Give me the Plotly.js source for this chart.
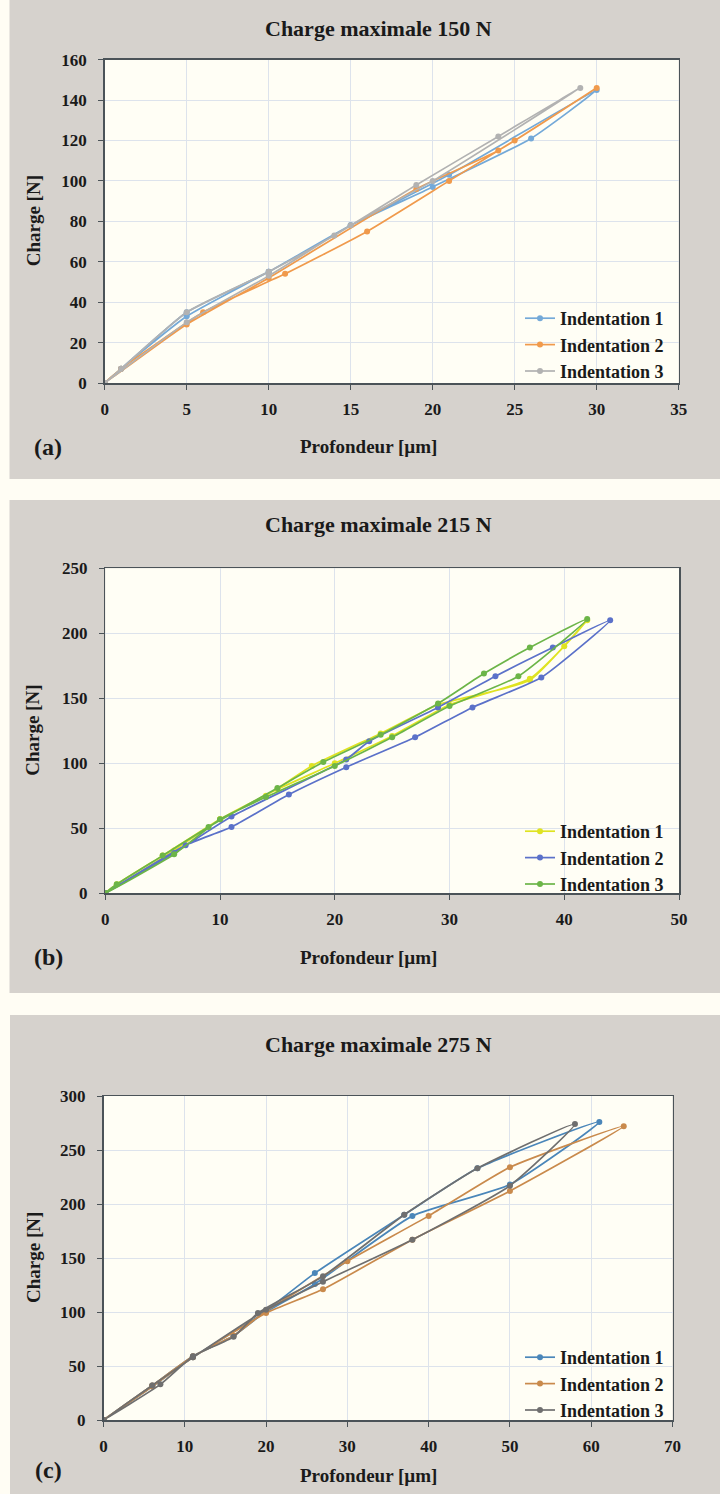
<!DOCTYPE html>
<html>
<head>
<meta charset="utf-8">
<script src="https://cdn.plot.ly/plotly-3.0.1.min.js"></script>
<style>html,body{margin:0;padding:0;background:#fffdf4;}</style>
</head>
<body>
<div id="chart" style="width:720px;height:1494px;"></div>
<script>
// ---------- DATA ----------
const seriesNames = ["Indentation 1", "Indentation 2", "Indentation 3"];
const panelTitles = ["Charge maximale 150 N", "Charge maximale 215 N", "Charge maximale 275 N"];
const panelLabels = ["(a)", "(b)", "(c)"];
const xTitle = "Profondeur [µm]";
const yTitle = "Charge [N]";

// Panel (a) – 150 N
const a_x1 = [0, 1, 5, 10, 15, 20, 26, 30, 21, 15, 10, 5, 1, 0];
const a_y1 = [0, 7, 35, 55, 78, 97, 121, 145, 103, 78, 55, 33, 7, 0];
const a_x2 = [0, 1, 6, 11, 16, 21, 25, 30, 24, 19, 10, 5, 0];
const a_y2 = [0, 7, 35, 54, 75, 100, 120, 146, 115, 96, 52, 29, 0];
const a_x3 = [0, 1, 5, 10, 14, 19, 24, 29, 20, 15, 10, 5, 0];
const a_y3 = [0, 7, 35, 55, 73, 98, 122, 146, 100, 78, 53, 30, 0];

// Panel (b) – 215 N
const b_x1 = [0, 1, 5, 10, 14, 18, 24, 29, 37, 42, 40, 37, 30, 25, 20, 15, 10, 6, 0];
const b_y1 = [0, 7, 29, 57, 75, 98, 123, 145, 164, 210, 190, 165, 145, 121, 100, 80, 57, 33, 0];
const b_x2 = [0, 7, 11, 16, 21, 27, 32, 38, 44, 39, 34, 29, 23, 21, 11, 6, 0];
const b_y2 = [0, 37, 51, 76, 97, 120, 143, 166, 210, 189, 167, 143, 117, 103, 59, 31, 0];
const b_x3 = [0, 1, 5, 9, 15, 19, 24, 29, 33, 37, 42, 36, 30, 25, 20, 14, 10, 6, 0];
const b_y3 = [0, 7, 29, 51, 81, 101, 122, 146, 169, 189, 211, 167, 144, 120, 98, 74, 57, 30, 0];

// Panel (c) – 275 N
const c_x1 = [0, 6, 11, 16, 20, 26, 37, 46, 61, 50, 38, 26, 20, 11, 6, 0];
const c_y1 = [0, 32, 59, 78, 101, 136, 190, 233, 276, 218, 189, 126, 100, 58, 31, 0];
const c_x2 = [0, 6, 11, 16, 20, 30, 40, 50, 64, 50, 38, 27, 20, 11, 6, 0];
const c_y2 = [0, 32, 59, 78, 101, 147, 189, 234, 272, 212, 167, 121, 99, 58, 31, 0];
const c_x3 = [0, 7, 11, 16, 19, 27, 37, 46, 58, 50, 38, 27, 20, 11, 6, 0];
const c_y3 = [0, 33, 59, 77, 99, 133, 190, 233, 274, 217, 167, 128, 102, 58, 32, 0];

// ---------- STYLE ----------
const W = 720, H = 1494;
const px = v => v / W;
const py = v => 1 - v / H;
const FONT = "Liberation Serif";
const colorsA = ["#74a9d8", "#f09a4c", "#b2b2b2"];
const colorsB = ["#dfe321", "#5b71c9", "#6cb548"];
const colorsC = ["#4a86b9", "#c98a4c", "#6f6f6f"];

const panels = [
  {xs: [a_x1, a_x2, a_x3], ys: [a_y1, a_y2, a_y3], colors: colorsA, xa: "x", ya: "y", legend: "legend"},
  {xs: [b_x1, b_x2, b_x3], ys: [b_y1, b_y2, b_y3], colors: colorsB, xa: "x2", ya: "y2", legend: "legend2"},
  {xs: [c_x1, c_x2, c_x3], ys: [c_y1, c_y2, c_y3], colors: colorsC, xa: "x3", ya: "y3", legend: "legend3"}
];

const traces = [];
panels.forEach(p => {
  for (let i = 0; i < 3; i++) {
    traces.push({
      type: "scatter", mode: "lines+markers",
      x: p.xs[i], y: p.ys[i], name: seriesNames[i],
      xaxis: p.xa, yaxis: p.ya, legend: p.legend,
      line: {color: p.colors[i], width: 1.7, shape: "spline", smoothing: 0.5},
      marker: {color: p.colors[i], size: 6, symbol: "circle"},
      hoverinfo: "x+y"
    });
  }
});

function tickFont() { return {family: FONT, size: 17, color: "#1a1a1a", weight: 700}; }
function xAxis(domain, range, dtick, anchor) {
  return {domain, range, dtick, anchor, tick0: 0, showgrid: true, gridcolor: "#dde3ec", gridwidth: 1,
    zeroline: false, showline: true, mirror: true, linecolor: "#4b5358", linewidth: 1.5,
    ticks: "outside", ticklen: 5, tickcolor: "#4b5358", tickfont: tickFont(), ticklabelstandoff: 5,
    fixedrange: true, automargin: false};
}
function yAxis(domain, range, dtick, anchor) {
  return {domain, range, dtick, anchor, tick0: 0, showgrid: true, gridcolor: "#dde3ec", gridwidth: 1,
    zeroline: false, showline: true, mirror: true, linecolor: "#4b5358", linewidth: 1.5,
    ticks: "outside", ticklen: 5, tickcolor: "#4b5358", tickfont: tickFont(), ticklabelstandoff: 8,
    fixedrange: true, automargin: false};
}

const plotRects = [
  {x0: 104.7, x1: 678.7, y0: 59.6, y1: 383},
  {x0: 105.3, x1: 679, y0: 568.3, y1: 893.3},
  {x0: 103.5, x1: 672.5, y0: 1096, y1: 1420}
];
const grayBoxes = [[9.5, 720, 0, 479], [9.5, 720, 500, 993], [10, 720, 1015, 1494]];
const titleY = [28, 525, 1044];
const xTitleY = [447, 957, 1475];
const labelY = [447, 957, 1470];
const legendTop = [300, 813, 1339];

const shapes = [];
grayBoxes.forEach(b => shapes.push({type: "rect", xref: "paper", yref: "paper", layer: "below",
  x0: px(b[0]), x1: px(b[1]), y0: py(b[3]), y1: py(b[2]), fillcolor: "#d6d2cd", line: {width: 0}}));
["", "2", "3"].forEach(s => shapes.push({type: "rect", xref: "x" + s + " domain", yref: "y" + s + " domain",
  layer: "below", x0: 0, x1: 1, y0: 0, y1: 1, fillcolor: "#fffef5", line: {width: 0}}));

const annotations = [];
for (let k = 0; k < 3; k++) {
  const r = plotRects[k];
  annotations.push({xref: "paper", yref: "paper", x: px(378), y: py(titleY[k]), xanchor: "center", yanchor: "middle",
    text: panelTitles[k], showarrow: false, font: {family: FONT, size: 22, color: "#1a1a1a", weight: 700}});
  annotations.push({xref: "paper", yref: "paper", x: px(369), y: py(xTitleY[k]), xanchor: "center", yanchor: "middle",
    text: xTitle, showarrow: false, font: {family: FONT, size: 19, color: "#1a1a1a", weight: 700}});
  annotations.push({xref: "paper", yref: "paper", x: px(33), y: py((r.y0 + r.y1) / 2), xanchor: "center", yanchor: "middle",
    text: yTitle, textangle: -90, showarrow: false, font: {family: FONT, size: 19, color: "#1a1a1a", weight: 700}});
  annotations.push({xref: "paper", yref: "paper", x: px(48), y: py(labelY[k]), xanchor: "center", yanchor: "middle",
    text: panelLabels[k], showarrow: false, font: {family: FONT, size: 24, color: "#1a1a1a", weight: 700}});
}

function legendCfg(top) {
  return {x: px(669), y: py(top), xanchor: "right", yanchor: "top", bgcolor: "rgba(0,0,0,0)", borderwidth: 0,
    font: {family: FONT, size: 18, color: "#1a1a1a", weight: 700}, tracegroupgap: 0, itemwidth: 30};
}

const layout = {
  width: W, height: H,
  margin: {l: 0, r: 0, t: 0, b: 0},
  font: {family: FONT, size: 17, color: "#1a1a1a", weight: 700},
  paper_bgcolor: "#fffdf4", plot_bgcolor: "#fffef5",
  showlegend: true,
  legend: legendCfg(legendTop[0]),
  legend2: legendCfg(legendTop[1]),
  legend3: legendCfg(legendTop[2]),
  xaxis: xAxis([plotRects[0].x0 / W, plotRects[0].x1 / W], [0, 35], 5, "y"),
  yaxis: yAxis([py(plotRects[0].y1), py(plotRects[0].y0)], [0, 160], 20, "x"),
  xaxis2: xAxis([plotRects[1].x0 / W, plotRects[1].x1 / W], [0, 50], 10, "y2"),
  yaxis2: yAxis([py(plotRects[1].y1), py(plotRects[1].y0)], [0, 250], 50, "x2"),
  xaxis3: xAxis([plotRects[2].x0 / W, plotRects[2].x1 / W], [0, 70], 10, "y3"),
  yaxis3: yAxis([py(plotRects[2].y1), py(plotRects[2].y0)], [0, 300], 50, "x3"),
  shapes, annotations
};

Plotly.newPlot("chart", traces, layout, {displayModeBar: false, staticPlot: true});
</script>
</body>
</html>
